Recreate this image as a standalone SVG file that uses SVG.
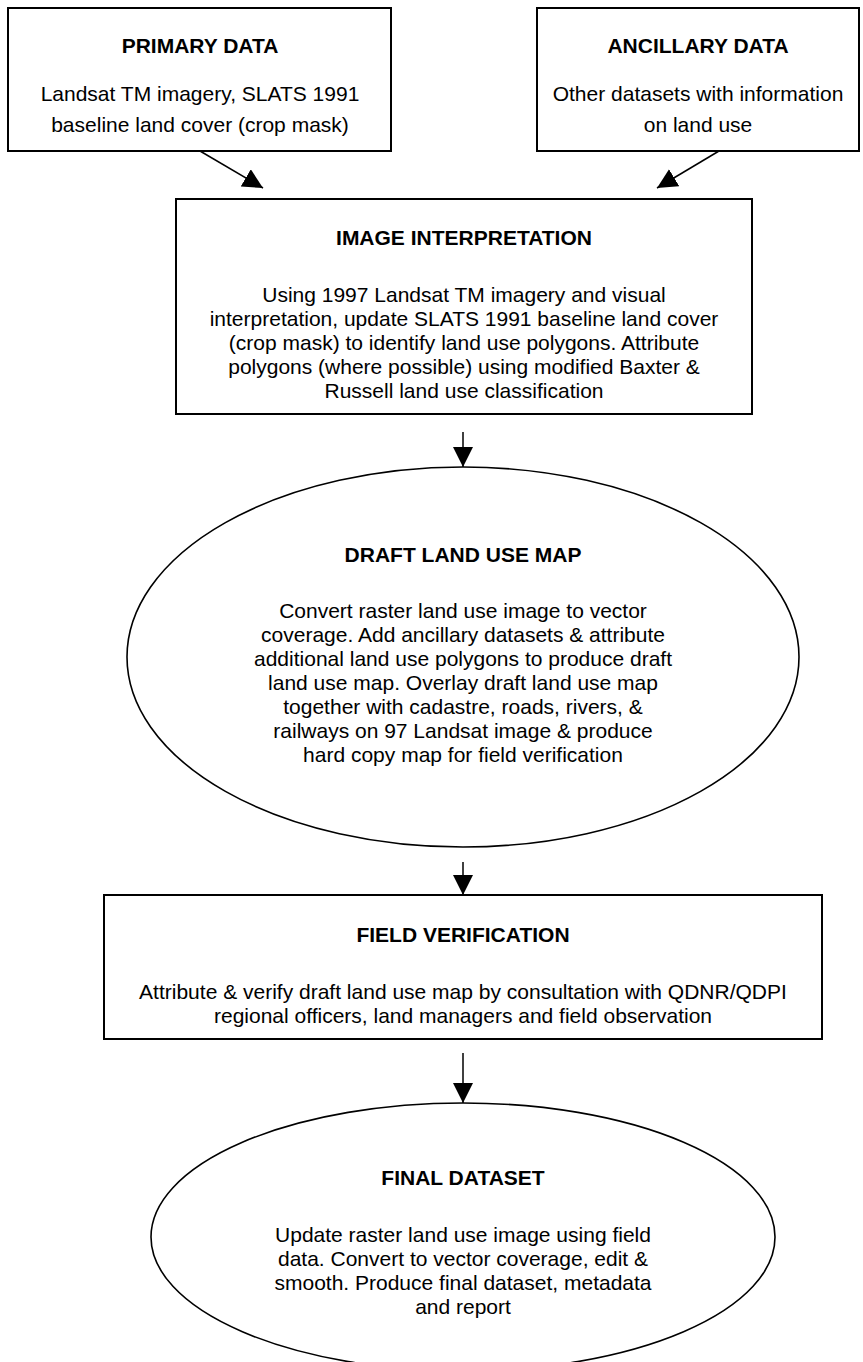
<svg xmlns="http://www.w3.org/2000/svg" width="863" height="1362" viewBox="0 0 863 1362">
<style>
.box{fill:#fff;stroke:#000;stroke-width:2}
.ell{fill:#fff;stroke:#000;stroke-width:1.6}
.t{font-family:"Liberation Sans",Arial,sans-serif;font-size:21px;fill:#000;text-anchor:middle}
.b{font-weight:bold}
.con{stroke:#000;stroke-width:1.5;fill:none}
</style>
<defs>
<marker id="ah" markerWidth="20" markerHeight="20" refX="20" refY="10" orient="auto" markerUnits="userSpaceOnUse">
<path d="M0,0 L20,10 L0,20 Z" fill="#000"/>
</marker>
</defs>
<rect width="863" height="1362" fill="#fff"/>
<g id="primary">
<rect class="box" x="8" y="8" width="383" height="143"/>
<text class="t b" x="200" y="53">PRIMARY DATA</text>
<text class="t" x="200" y="101">Landsat TM imagery, SLATS 1991</text>
<text class="t" x="200" y="132">baseline land cover (crop mask)</text>
</g>
<g id="ancillary">
<rect class="box" x="537" y="8" width="322" height="143"/>
<text class="t b" x="698" y="53">ANCILLARY DATA</text>
<text class="t" x="698" y="101">Other datasets with information</text>
<text class="t" x="698" y="132">on land use</text>
</g>
<g id="interpretation">
<rect class="box" x="176" y="199" width="576" height="215"/>
<text class="t b" x="464" y="245">IMAGE INTERPRETATION</text>
<text class="t" x="464" y="302">Using 1997 Landsat TM imagery and visual</text>
<text class="t" x="464" y="326">interpretation, update SLATS 1991 baseline land cover</text>
<text class="t" x="464" y="350">(crop mask) to identify land use polygons.   Attribute</text>
<text class="t" x="464" y="374">polygons (where possible) using modified Baxter &amp;</text>
<text class="t" x="464" y="398">Russell land use classification</text>
</g>
<g id="draft">
<ellipse class="ell" cx="463" cy="657" rx="336" ry="190"/>
<text class="t b" x="463" y="562">DRAFT LAND USE MAP</text>
<text class="t" x="463" y="618">Convert raster land use image to vector</text>
<text class="t" x="463" y="642">coverage.  Add ancillary datasets &amp; attribute</text>
<text class="t" x="463" y="666">additional land use polygons to produce draft</text>
<text class="t" x="463" y="690">land use map.  Overlay draft land use map</text>
<text class="t" x="463" y="714">together with cadastre, roads, rivers, &amp;</text>
<text class="t" x="463" y="738">railways on 97 Landsat image &amp; produce</text>
<text class="t" x="463" y="762">hard copy map for field verification</text>
</g>
<g id="field">
<rect class="box" x="104" y="895" width="718" height="144"/>
<text class="t b" x="463" y="942">FIELD VERIFICATION</text>
<text class="t" x="463" y="999">Attribute &amp; verify draft land use map by consultation with QDNR/QDPI</text>
<text class="t" x="463" y="1023">regional officers, land managers and field observation</text>
</g>
<g id="final">
<ellipse class="ell" cx="463" cy="1237" rx="312" ry="134"/>
<text class="t b" x="463" y="1185">FINAL DATASET</text>
<text class="t" x="463" y="1242">Update raster land use image using field</text>
<text class="t" x="463" y="1266">data. Convert to vector coverage, edit &amp;</text>
<text class="t" x="463" y="1290">smooth.  Produce final dataset, metadata</text>
<text class="t" x="463" y="1314">and report</text>
</g>
<g id="connectors">
<line class="con" x1="200" y1="151" x2="263" y2="188" marker-end="url(#ah)"/>
<line class="con" x1="719" y1="151" x2="657" y2="188" marker-end="url(#ah)"/>
<line class="con" x1="463" y1="432" x2="463" y2="467" marker-end="url(#ah)"/>
<line class="con" x1="463" y1="862" x2="463" y2="895" marker-end="url(#ah)"/>
<line class="con" x1="463" y1="1053" x2="463" y2="1103" marker-end="url(#ah)"/>
</g>
</svg>
